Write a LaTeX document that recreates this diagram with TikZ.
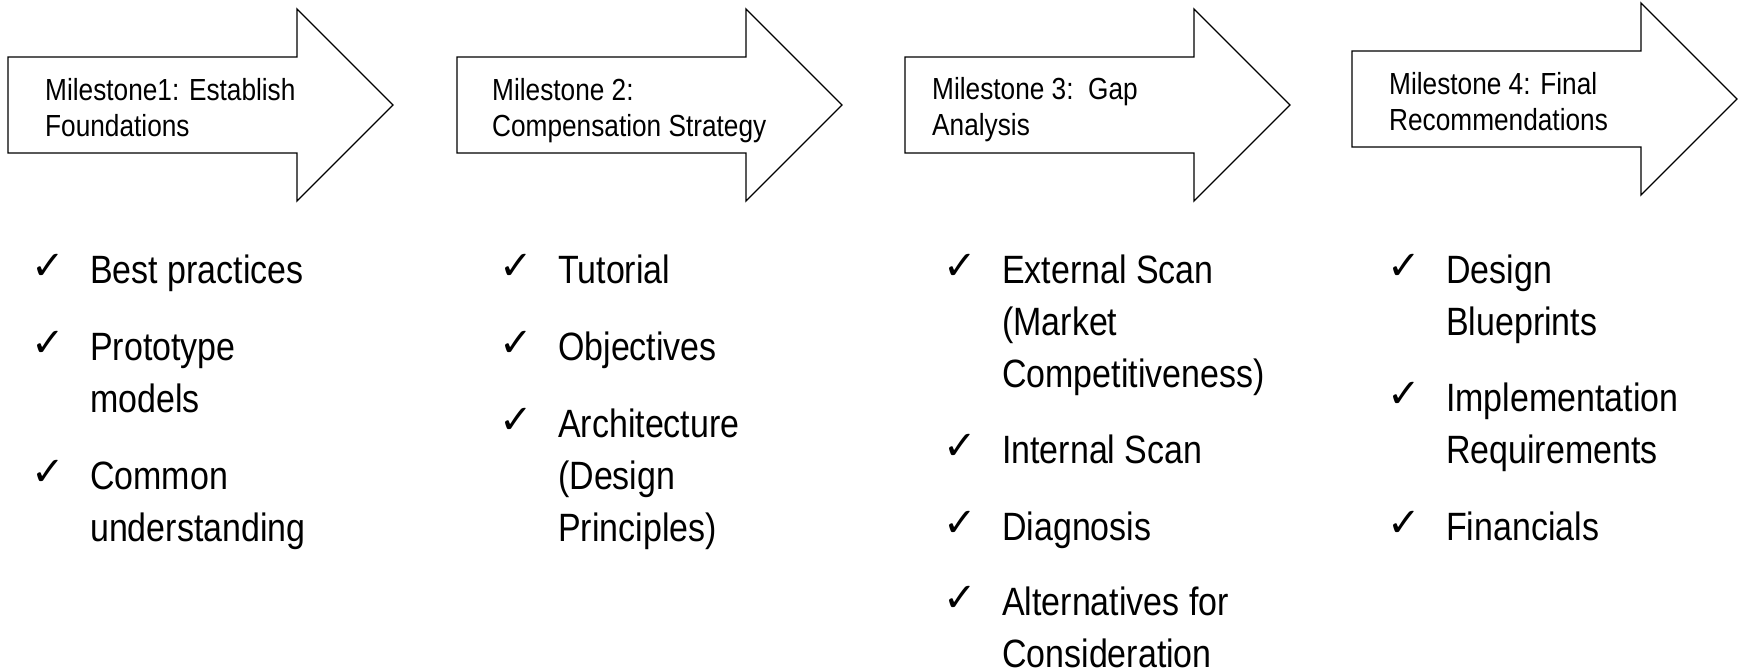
\documentclass[tikz,border=0pt]{standalone}
\usepackage{fontspec}
\setmainfont{Liberation Sans}[FakeStretch=0.86]
\newfontfamily\checkfont{DejaVu Sans}
\usetikzlibrary{positioning}

\tikzset{
  msarrow/.style={draw, line width=1.3pt, fill=white, line join=miter},
  mstext/.style={anchor=base west, inner sep=0pt, align=left,
    font=\fontsize{30.5}{36}\selectfont},
  itemtext/.style={anchor=base west, inner sep=0pt, align=left,
    font=\fontsize{39.5}{52}\selectfont},
  tick/.style={anchor=base west, inner sep=0pt,
    font=\checkfont\fontsize{40}{40}\selectfont}
}

\begin{document}
\begin{tikzpicture}[x=1pt, y=-1pt]
  \useasboundingbox (0,0) rectangle (1740,670);

  % Milestone arrows
  \foreach \x/\y in {8/105, 457/105, 905/105, 1352/99}{
    \draw[msarrow] (\x,\y-48) -- (\x+289,\y-48) -- (\x+289,\y-96) -- (\x+385,\y)
      -- (\x+289,\y+96) -- (\x+289,\y+48) -- (\x,\y+48) -- cycle;
  }

  % Milestone titles (placed at the baseline of their last line)
  \node[mstext] (ms1) at (45,136) {Milestone1: Establish\\Foundations};
  \node[mstext] (ms2) at (492,136) {Milestone 2:\\Compensation Strategy};
  \node[mstext] (ms3) at (932,135) {Milestone 3:\ \ Gap\\Analysis};
  \node[mstext] (ms4) at (1389,130) {Milestone 4: Final\\Recommendations};

  % Milestone 1 items
  \node[itemtext] (best) at (90,283) {Best practices};
  \node[itemtext] (proto) at (90,412) {Prototype\\models};
  \node[itemtext] (common) at (90,541) {Common\\understanding};

  % Milestone 2 items
  \node[itemtext] (tutorial) at (558,283) {Tutorial};
  \node[itemtext] (objectives) at (558,360) {Objectives};
  \node[itemtext] (architecture) at (558,541) {Architecture\\(Design\\Principles)};

  % Milestone 3 items
  \node[itemtext] (external) at (1002,387) {External Scan\\(Market\\Competitiveness)};
  \node[itemtext] (internal) at (1002,463) {Internal Scan};
  \node[itemtext] (diagnosis) at (1002,540) {Diagnosis};
  \node[itemtext] (alternatives) at (1002,667) {Alternatives for\\Consideration};

  % Milestone 4 items
  \node[itemtext] (blueprints) at (1446,335) {Design\\Blueprints};
  \node[itemtext] (implementation) at (1446,463) {Implementation\\Requirements};
  \node[itemtext] (financials) at (1446,540) {Financials};

  % check marks, level with the first line of each item
  \foreach \n/\k in {best/0, proto/1, common/1, tutorial/0, objectives/0, architecture/2,
    external/2, internal/0, diagnosis/0, alternatives/1, blueprints/1, implementation/1, financials/0}{
    \node[tick] (tick-\n) at ([xshift=-59pt, yshift=4pt+\k*52pt]\n.base west) {✓};
  }

\end{tikzpicture}
\end{document}
